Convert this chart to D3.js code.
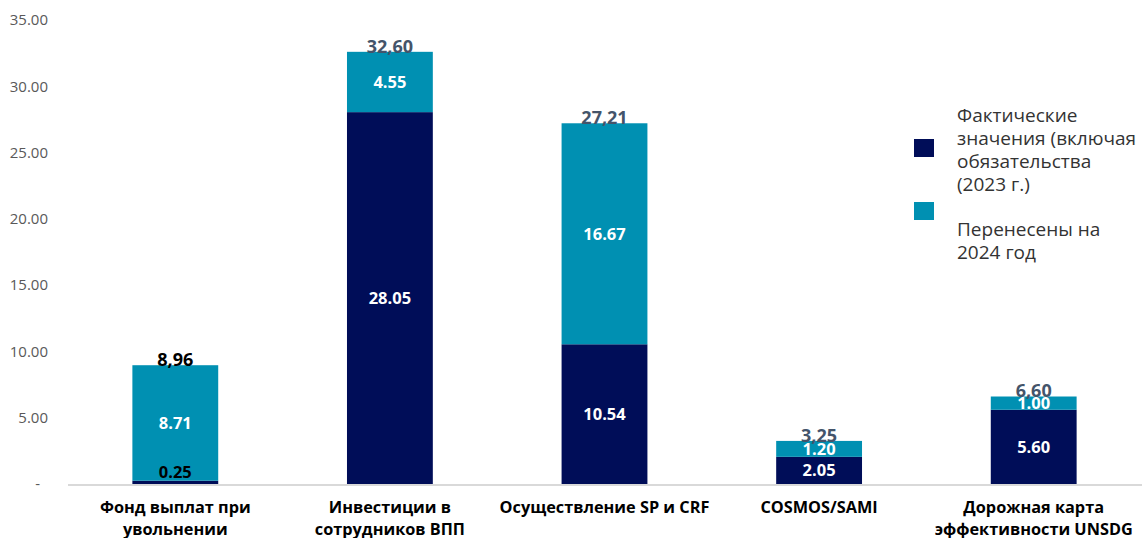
<!DOCTYPE html>
<html><head><meta charset="utf-8">
<script src="https://cdn.jsdelivr.net/npm/d3@7"></script>
<style>
html,body{margin:0;padding:0;background:#fff;}
svg{display:block;font-family:"Open Sans",sans-serif;}
</style></head>
<body>
<svg id="chart" width="1142" height="538"></svg>
<script>
const categories = [
  ["Фонд выплат при", "увольнении"],
  ["Инвестиции в", "сотрудников ВПП"],
  ["Осуществление SP и CRF"],
  ["COSMOS/SAMI"],
  ["Дорожная карта", "эффективности UNSDG"]
];
const actualValues = [0.25, 28.05, 10.54, 2.05, 5.60];
const carriedValues = [8.71, 4.55, 16.67, 1.20, 1.00];
const totalLabels = ["8,96", "32,60", "27,21", "3,25", "6,60"];
const yTicks = [0, 5, 10, 15, 20, 25, 30, 35];
const legendLabels = [
  ["Фактические", "значения (включая", "обязательства", "(2023 г.)"],
  ["Перенесены на", "2024 год"]
];

const colors = ["#000d58", "#0090b2"];
const svg = d3.select("#chart");
const x = d3.scaleBand().domain(d3.range(categories.length)).range([68, 1141]).paddingInner(0.6).paddingOuter(0.3);
const y = d3.scaleLinear().domain([0, 35]).range([484, 20]);

// y axis labels
const yAxis = d3.axisLeft(y).tickValues(yTicks).tickSize(0).tickPadding(0)
  .tickFormat(d => d === 0 ? "-" : d3.format(".2f")(d));
const gy = svg.append("g").attr("transform", "translate(48,0)").call(yAxis);
gy.select(".domain").remove();
gy.selectAll("text").attr("font-size", 15).attr("fill", "#595959").attr("font-family", "Open Sans");
gy.selectAll(".tick").filter(d => d === 0).select("text").attr("dx", -8);

// baseline
svg.append("line").attr("x1", 68).attr("x2", 1142).attr("y1", y(0) + 1).attr("y2", y(0) + 1)
  .attr("stroke", "#d9d9d9").attr("stroke-width", 2);

const stacked = categories.map((c, i) => ({i, a: actualValues[i], b: carriedValues[i]}));

// bars
const g = svg.append("g");
g.selectAll("rect.act").data(stacked).join("rect").attr("class", "act")
  .attr("x", d => x(d.i)).attr("width", x.bandwidth())
  .attr("y", d => y(d.a)).attr("height", d => y(0) - y(d.a)).attr("fill", colors[0]);
g.selectAll("rect.car").data(stacked).join("rect").attr("class", "car")
  .attr("x", d => x(d.i)).attr("width", x.bandwidth())
  .attr("y", d => y(d.a + d.b)).attr("height", d => y(d.a) - y(d.a + d.b)).attr("fill", colors[1]);

// segment labels
const cx = d => x(d.i) + x.bandwidth() / 2;
g.selectAll("text.act").data(stacked).join("text").attr("class", "act")
  .attr("x", cx)
  .attr("y", d => d.a < 1 ? y(d.a) - 3 : (y(0) + y(d.a)) / 2)
  .attr("dy", d => d.a < 1 ? "0" : "0.35em")
  .attr("text-anchor", "middle").attr("font-size", 16.5).attr("font-weight", 700)
  .attr("fill", d => d.a < 1 ? "#000" : "#fff")
  .text(d => d3.format(".2f")(d.a));
g.selectAll("text.car").data(stacked).join("text").attr("class", "car")
  .attr("x", cx)
  .attr("y", d => (y(d.a) + y(d.a + d.b)) / 2).attr("dy", "0.35em")
  .attr("text-anchor", "middle").attr("font-size", 16.5).attr("font-weight", 700)
  .attr("fill", "#fff")
  .text(d => d3.format(".2f")(d.b));
g.selectAll("text.tot").data(stacked).join("text").attr("class", "tot")
  .attr("x", cx)
  .attr("y", d => y(d.a + d.b)).attr("dy", "0.05em")
  .attr("text-anchor", "middle").attr("font-size", 18).attr("font-weight", 700)
  .attr("fill", d => d.i === 0 ? "#000" : "#44546a")
  .text(d => totalLabels[d.i]);

// category labels
const cl = svg.append("g");
categories.forEach((lines, i) => {
  const t = cl.append("text").attr("text-anchor", "middle").attr("font-size", 16.3).attr("font-weight", 700)
    .attr("fill", "#000");
  lines.forEach((ln, j) => {
    t.append("tspan").attr("x", x(i) + x.bandwidth() / 2).attr("y", 513 + j * 22).text(ln);
  });
});

// legend
const lg = svg.append("g");
const legendY = [[115, 138, 161, 184], [229, 252]];
const swatchY = [139, 202];
legendLabels.forEach((lines, k) => {
  lg.append("rect").attr("x", 914).attr("y", swatchY[k]).attr("width", 20).attr("height", 18).attr("fill", colors[k]);
  const t = lg.append("text").attr("font-size", 19).attr("fill", "#333");
  lines.forEach((ln, j) => t.append("tspan").attr("x", 957).attr("y", legendY[k][j]).attr("dy", "0.35em").text(ln));
});
</script>
</body></html>
